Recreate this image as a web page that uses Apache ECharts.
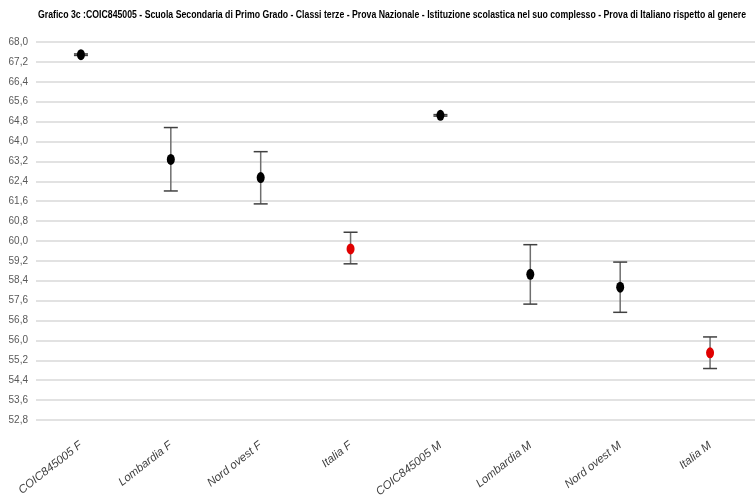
<!DOCTYPE html>
<html>
<head>
<meta charset="utf-8">
<script src="https://cdn.jsdelivr.net/npm/echarts@6/dist/echarts.min.js"></script>
<style>
html,body{margin:0;padding:0;background:#fff;}
#c{width:755px;height:501px;}
</style>
</head>
<body>
<div id="c"></div>
<script>
var titleText = "Grafico 3c :COIC845005 - Scuola Secondaria di Primo Grado - Classi terze - Prova Nazionale - Istituzione scolastica nel suo complesso - Prova di Italiano rispetto al genere";
var categories = ["COIC845005 F", "Lombardia F", "Nord ovest F", "Italia F", "COIC845005 M", "Lombardia M", "Nord ovest M", "Italia M"];
var means = [67.49, 63.28, 62.55, 59.68, 65.05, 58.66, 58.14, 55.50];
var lowers = [67.46, 62.01, 61.49, 59.08, 65.02, 57.46, 57.13, 54.87];
var uppers = [67.52, 64.56, 63.59, 60.35, 65.08, 59.85, 59.15, 56.14];
var yMin = 52.8, yMax = 68.0, yStep = 0.8;

var chart = echarts.init(document.getElementById('c'), null, {renderer: 'canvas'});

// title is drawn condensed (the original uses a narrow font)
var titleFont = 'bold 11px "Liberation Sans", Arial, sans-serif';
var mc = document.createElement('canvas').getContext('2d');
mc.font = titleFont;
var titleW = mc.measureText(titleText).width;
var titleTargetW = 708;
var titleScale = Math.min(1, titleTargetW / titleW);

var errData = categories.map(function (c, i) { return [i, lowers[i], uppers[i]]; });
var ptData = categories.map(function (c, i) {
  return {
    value: [i, means[i]],
    itemStyle: { color: c.indexOf('Italia') === 0 ? '#e00000' : '#000000', opacity: 1 }
  };
});

var option = {
  animation: false,
  backgroundColor: '#ffffff',
  graphic: [{
    type: 'text',
    x: 392,
    y: 15,
    scaleX: titleScale,
    scaleY: 1,
    style: {
      text: titleText,
      font: titleFont,
      fill: '#000',
      align: 'center',
      verticalAlign: 'middle'
    }
  }],
  grid: { left: 36, top: 42, width: 726, height: 378, containLabel: false },
  xAxis: {
    type: 'category',
    data: categories,
    boundaryGap: true,
    axisLine: { show: false },
    axisTick: { show: false },
    splitLine: { show: false },
    axisLabel: {
      rotate: 38,
      margin: 24,
      interval: 0,
      fontFamily: 'Liberation Sans',
      fontStyle: 'italic',
      fontSize: 11.5,
      color: '#404040'
    }
  },
  yAxis: {
    type: 'value',
    min: yMin,
    max: yMax,
    interval: yStep,
    axisLine: { show: false },
    axisTick: { show: false },
    splitLine: { lineStyle: { color: '#d9d9d9', width: 1.5 } },
    axisLabel: {
      margin: 8,
      fontFamily: 'Liberation Sans',
      fontSize: 10,
      color: '#595959',
      formatter: function (v) { return v.toFixed(1).replace('.', ','); }
    }
  },
  series: [
    {
      type: 'custom',
      data: errData,
      z: 2,
      renderItem: function (params, api) {
        var x = api.value(0);
        var lo = api.coord([x, api.value(1)]);
        var hi = api.coord([x, api.value(2)]);
        var hw = 7;
        return {
          type: 'group',
          children: [
            { type: 'line', shape: { x1: lo[0], y1: lo[1], x2: hi[0], y2: hi[1] }, style: { stroke: '#6e6e6e', lineWidth: 1.5 } },
            { type: 'line', shape: { x1: lo[0] - hw, y1: lo[1], x2: lo[0] + hw, y2: lo[1] }, style: { stroke: '#404040', lineWidth: 1.5 } },
            { type: 'line', shape: { x1: hi[0] - hw, y1: hi[1], x2: hi[0] + hw, y2: hi[1] }, style: { stroke: '#404040', lineWidth: 1.5 } }
          ]
        };
      }
    },
    {
      type: 'scatter',
      data: ptData,
      z: 3,
      symbol: 'path://M0,5a5,5 0 1,0 10,0a5,5 0 1,0 -10,0z',
      symbolKeepAspect: false,
      symbolSize: [8, 11]
    }
  ]
};
chart.setOption(option);
</script>
</body>
</html>
